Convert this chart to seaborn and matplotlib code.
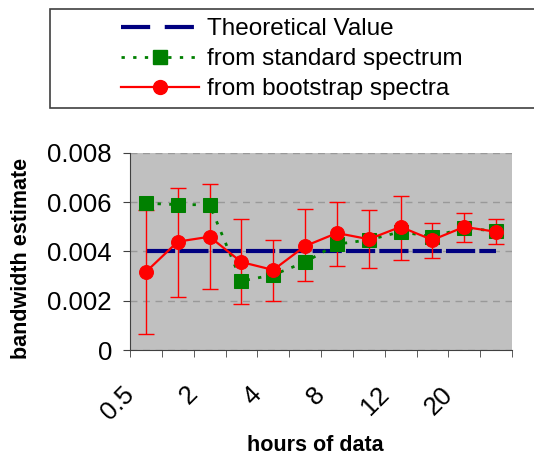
import numpy as np
import pandas as pd
import matplotlib
matplotlib.use("Agg")
import matplotlib.pyplot as plt
import matplotlib.transforms as mtransforms
import seaborn as sns
from matplotlib.patches import Rectangle
from matplotlib.lines import Line2D

# categories (hours of data); Excel only labels every other one
hours = ["0.5", "1", "2", "3", "4", "6", "8", "10", "12", "16", "20", "24"]

theory = [0.004, 0.004, 0.004, 0.004, 0.004, 0.004,
          0.004, 0.004, 0.004, 0.004, 0.004, 0.004]
standard = [0.00596, 0.0059, 0.0059, 0.0028, 0.00305, 0.00357,
            0.0043, 0.00447, 0.0048, 0.0046, 0.00495, 0.00483]
bootstrap = [0.00317, 0.0044, 0.0046, 0.00357, 0.00325, 0.00422,
             0.00475, 0.0045, 0.005, 0.00447, 0.005, 0.0048]
boot_low = [0.00065, 0.00215, 0.00248, 0.00187, 0.0020, 0.0028,
            0.0034, 0.00333, 0.00365, 0.00374, 0.00439, 0.0043]
boot_high = [0.0057, 0.00658, 0.00674, 0.00532, 0.00447, 0.00573,
             0.006, 0.00569, 0.00625, 0.00516, 0.00556, 0.00532]

yticks = [0, 0.002, 0.004, 0.006, 0.008]
ytick_labels = ["0", "0.002", "0.004", "0.006", "0.008"]

df = pd.DataFrame({"hours": hours, "theory": theory, "standard": standard,
                   "bootstrap": bootstrap, "low": boot_low, "high": boot_high})
df["pos"] = np.arange(len(df))

plt.rcParams["font.family"] = ["Liberation Sans", "DejaVu Sans"]

fig = plt.figure(figsize=(5.34, 4.61), dpi=100)
ax = fig.add_axes([130 / 534, 1 - 350 / 461, 382 / 534, 197 / 461])
ax.set_facecolor("#C0C0C0")

navy = "#000080"
green = "#008000"
red = "#FF0000"

sns.lineplot(data=df, x="pos", y="theory", color=navy, lw=3,
             linestyle=(0, (7, 1)), errorbar=None, ax=ax, zorder=3)
sns.lineplot(data=df, x="pos", y="standard", color=green, lw=2,
             linestyle=(0, (1.2, 3)), marker="s", markersize=10,
             markeredgecolor=green, errorbar=None, ax=ax, zorder=4)
ax.errorbar(df["pos"], df["bootstrap"],
            yerr=[df["bootstrap"] - df["low"], df["high"] - df["bootstrap"]],
            fmt="none", ecolor=red, elinewidth=1, capsize=5.5, capthick=1,
            zorder=3.5)
sns.lineplot(data=df, x="pos", y="bootstrap", color=red, lw=1.6,
             marker="o", markersize=10, markeredgecolor=red,
             errorbar=None, ax=ax, zorder=5)

ax.set_yticks(yticks)
ax.set_yticklabels(ytick_labels, fontsize=18.5)
ax.set_xticks(df["pos"][::2])
ax.set_xticklabels(hours[::2], fontsize=18.5, rotation=45, ha="right",
                   rotation_mode="anchor")
ax.set_xticks(np.arange(-0.5, len(hours)), minor=True)
ax.set_xlim(-0.5, len(hours) - 0.5)
ax.set_ylim(0, 0.008)
ax.tick_params(axis="x", which="major", length=0, pad=23)
ax.tick_params(axis="x", which="minor", length=5, color="#404040")
ax.tick_params(axis="y", length=5, color="#404040", pad=8)

# Excel puts the slanted labels a bit left of the category centre
shift = mtransforms.ScaledTranslation(-24 / 100, 0, fig.dpi_scale_trans)
for tick in ax.xaxis.get_major_ticks():
    tick.label1.set_transform(tick.label1.get_transform() + shift)

ax.yaxis.grid(True, linestyle=(0, (5, 4)), color="#999999", lw=1)
ax.set_axisbelow(True)
for s in ["top", "right"]:
    ax.spines[s].set_visible(False)
ax.spines["left"].set_color("#404040")
ax.spines["bottom"].set_color("#404040")

ax.set_xlabel("")
ax.set_ylabel("")
fig.text(315 / 534, 1 - 445 / 461, "hours of data", fontsize=15.5,
         fontweight="bold", ha="center", va="center")
fig.text(22 / 534, 1 - 258 / 461, "bandwidth estimate", fontsize=15.5,
         fontweight="bold", ha="center", va="center", rotation=90)

# legend box at the top, runs off the right edge like the original
fig.patches.append(Rectangle((50 / 534, 1 - 108 / 461), 500 / 534, 99 / 461,
                             transform=fig.transFigure, facecolor="white",
                             edgecolor="#404040", lw=1.2))
handles = [
    Line2D([], [], color=navy, lw=3, linestyle=(0, (7, 3.5))),
    Line2D([], [], color=green, lw=2, linestyle=(0, (1.2, 3)), marker="s",
           markersize=10, markeredgecolor=green),
    Line2D([], [], color=red, lw=1.6, marker="o", markersize=10,
           markeredgecolor=red),
]
labels = ["Theoretical Value", "from standard spectrum", "from bootstrap spectra"]
fig.legend(handles, labels, loc="upper left",
           bbox_to_anchor=(104 / 534, 1 - 1 / 461), frameon=False,
           fontsize=17.5, handlelength=3.2, handletextpad=0.35,
           labelspacing=0.33, borderpad=0.2)

fig.savefig("out.png", dpi=100)
